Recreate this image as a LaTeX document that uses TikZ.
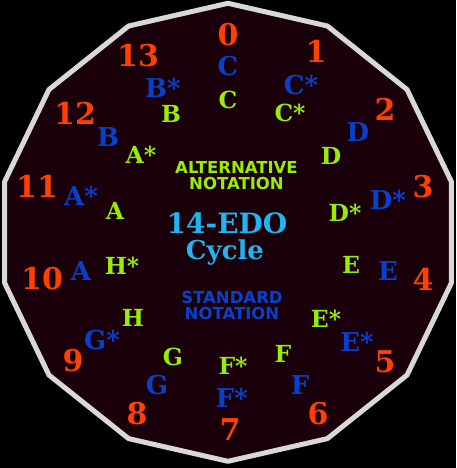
\documentclass[tikz,border=0pt]{standalone}
\usepackage{fontspec}
\usepackage{tikz}
\usetikzlibrary{positioning,calc}
\newfontfamily\notefont{DejaVu Sans}
\newfontfamily\facefont{DejaVu Serif}
\definecolor{numred}{RGB}{255,64,0}
\definecolor{stdblue}{RGB}{8,64,204}
\definecolor{altgreen}{RGB}{153,238,0}
\definecolor{titlecyan}{RGB}{32,180,240}
\definecolor{rimgray}{RGB}{216,216,216}
\definecolor{facemaroon}{RGB}{26,0,10}

\begin{document}
\begin{tikzpicture}[x=1pt, y=1pt,
  num/.style={text=numred, font=\facefont\bfseries\fontsize{30}{30}\selectfont},
  std/.style={text=stdblue, font=\facefont\bfseries\fontsize{26}{26}\selectfont},
  alt/.style={text=altgreen, font=\facefont\bfseries\fontsize{23.5}{23.5}\selectfont},
  note/.style={align=center, font=\notefont\bfseries\fontsize{16.5}{16}\selectfont},
  title/.style={anchor=base, inner sep=0pt, text=titlecyan, font=\facefont\bfseries\fontsize{28}{28}\selectfont}]

\fill[black] (-228, -235.7) rectangle (228, 232.3);
\useasboundingbox (-228, -235.7) rectangle (228, 232.3);

% the 14-sided face
\draw[rimgray, fill=facemaroon, line width=5pt, line join=round] (90:229)
  \foreach \k in {1,...,13} {-- ({90+\k*360/14}:229)} -- cycle;

% step numbers
\path (0, 197.3) node[num] (num0) {0};
\path (88, 181.3) node[num] (num1) {1};
\path (157, 123.3) node[num] (num2) {2};
\path (195, 45.3) node[num] (num3) {3};
\path (195, -46.7) node[num] (num4) {4};
\path (157, -129.7) node[num] (num5) {5};
\path (90, -181.7) node[num] (num6) {6};
\path (2, -197.7) node[num] (num7) {7};
\path (-91, -181.7) node[num] (num8) {8};
\path (-155, -128.7) node[num] (num9) {9};
\path (-186, -46.7) node[num] (num10) {10};
\path (-191, 46.3) node[num] (num11) {11};
\path (-153, 119.3) node[num] (num12) {12};
\path (-90, 176.3) node[num] (num13) {13};

% standard notation
\path (0, 166.3) node[std] (stdC) {C};
\path (73, 147.3) node[std] (stdCs) {C*};
\path (130, 100.3) node[std] (stdD) {D};
\path (160, 32.3) node[std] (stdDs) {D*};
\path (160, -38.7) node[std] (stdE) {E};
\path (129, -109.7) node[std] (stdEs) {E*};
\path (72, -152.7) node[std] (stdF) {F};
\path (4, -165.7) node[std] (stdFs) {F*};
\path (-71, -152.7) node[std] (stdG) {G};
\path (-126, -107.7) node[std] (stdGs) {G*};
\path (-147, -38.7) node[std] (stdA) {A};
\path (-147, 36.3) node[std] (stdAs) {A*};
\path (-120, 95.3) node[std] (stdB) {B};
\path (-65, 144.3) node[std] (stdBs) {B*};

% alternative notation
\path (0, 132.3) node[alt] (altC) {C};
\path (62, 119.3) node[alt] (altCs) {C*};
\path (103, 76.3) node[alt] (altD) {D};
\path (117, 19.3) node[alt] (altDs) {D*};
\path (123, -32.7) node[alt] (altE) {E};
\path (98, -86.7) node[alt] (altEs) {E*};
\path (55, -121.7) node[alt] (altF) {F};
\path (5, -133.7) node[alt] (altFs) {F*};
\path (-55, -124.7) node[alt] (altG) {G};
\path (-95, -85.7) node[alt] (altH) {H};
\path (-106, -33.7) node[alt] (altHs) {H*};
\path (-113, 21.3) node[alt] (altA) {A};
\path (-87, 77.3) node[alt] (altAs) {A*};
\path (-57, 118.3) node[alt] (altB) {B};

% centre captions
\path (8.5, 56.3) node[note, text=altgreen] (altlabel) {ALTERNATIVE\\NOTATION};
\path (-1, -1.7) node[title] (edo) {14-EDO};
\path (-3, -27.7) node[title, font=\facefont\bfseries\fontsize{26}{26}\selectfont] (cycle) {Cycle};
\path (4, -73) node[note, text=stdblue] (stdlabel) {STANDARD\\NOTATION};
\end{tikzpicture}
\end{document}
